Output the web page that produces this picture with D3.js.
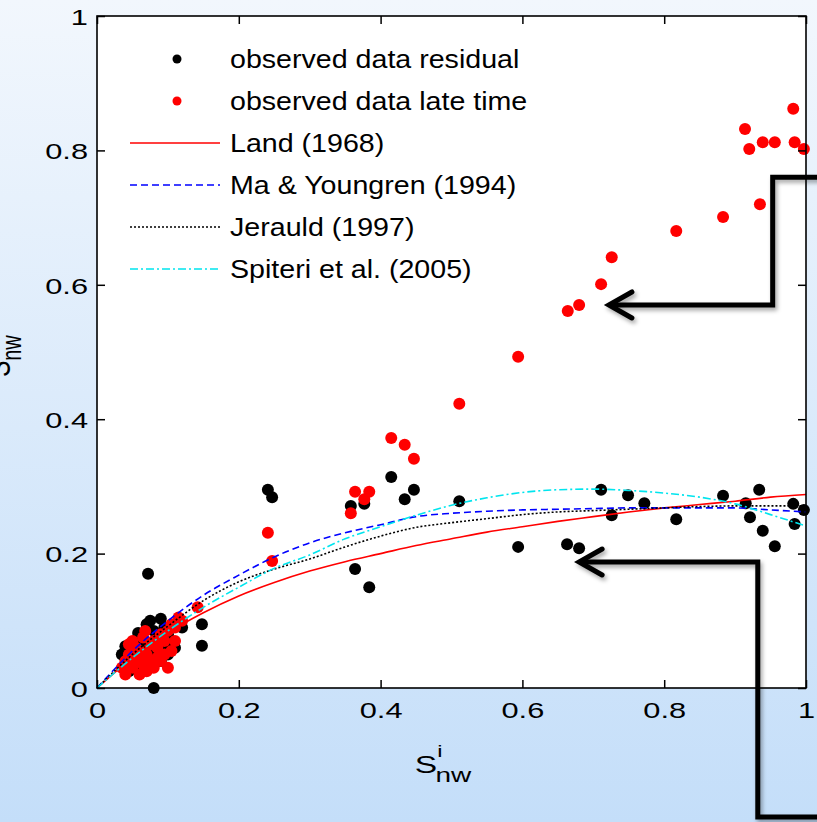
<!DOCTYPE html>
<html>
<head>
<meta charset="utf-8">
<script src="https://cdn.jsdelivr.net/npm/d3@7"></script>
<style>
  html, body { margin: 0; padding: 0; overflow: hidden; }
  svg { display: block; font-family: 'Liberation Sans', Arial, sans-serif; }
</style>
</head>
<body>
<svg width="817" height="822"></svg>
<script>
// observed data residual (S_nw^i, S_nw)
const residual = [
  [0.035, 0.050], [0.040, 0.062], [0.045, 0.055], [0.050, 0.065], [0.055, 0.045],
  [0.060, 0.070], [0.065, 0.060], [0.070, 0.095], [0.075, 0.100], [0.080, 0.085],
  [0.085, 0.075], [0.090, 0.103], [0.095, 0.090], [0.100, 0.080], [0.105, 0.070],
  [0.110, 0.060], [0.100, 0.050], [0.090, 0.040], [0.080, 0.035], [0.070, 0.040],
  [0.060, 0.030], [0.050, 0.035], [0.045, 0.025], [0.120, 0.090], [0.115, 0.100],
  [0.085, 0.055], [0.075, 0.050], [0.065, 0.045], [0.095, 0.060], [0.058, 0.082],
  [0.072, 0.170], [0.080, 0.000], [0.148, 0.095], [0.148, 0.063],
  [0.241, 0.295], [0.247, 0.284], [0.358, 0.271], [0.377, 0.274], [0.364, 0.177],
  [0.384, 0.150], [0.415, 0.314], [0.447, 0.295], [0.434, 0.281], [0.511, 0.278],
  [0.594, 0.210], [0.663, 0.214], [0.680, 0.208], [0.711, 0.295], [0.749, 0.287],
  [0.772, 0.275], [0.726, 0.257], [0.817, 0.251], [0.883, 0.286], [0.934, 0.295],
  [0.915, 0.275], [0.921, 0.254], [0.939, 0.234], [0.956, 0.211], [0.982, 0.274],
  [0.984, 0.244], [0.997, 0.265]
];

// observed data late time
const lateTime = [
  [0.035, 0.030], [0.040, 0.040], [0.045, 0.050], [0.040, 0.020], [0.050, 0.030],
  [0.055, 0.040], [0.060, 0.055], [0.065, 0.035], [0.070, 0.050], [0.075, 0.065],
  [0.080, 0.070], [0.085, 0.060], [0.090, 0.080], [0.095, 0.070], [0.100, 0.085],
  [0.105, 0.095], [0.110, 0.090], [0.115, 0.105], [0.120, 0.100], [0.060, 0.020],
  [0.070, 0.025], [0.080, 0.030], [0.090, 0.040], [0.100, 0.030], [0.085, 0.045],
  [0.075, 0.040], [0.065, 0.075], [0.055, 0.060], [0.050, 0.070], [0.095, 0.050],
  [0.110, 0.070], [0.105, 0.055], [0.045, 0.065], [0.068, 0.085], [0.062, 0.045],
  [0.142, 0.120],
  [0.241, 0.231], [0.247, 0.189], [0.358, 0.260], [0.364, 0.292], [0.384, 0.292],
  [0.377, 0.281], [0.415, 0.372], [0.434, 0.362], [0.447, 0.341], [0.511, 0.423],
  [0.594, 0.493], [0.664, 0.561], [0.680, 0.570], [0.711, 0.601], [0.726, 0.641],
  [0.817, 0.680], [0.883, 0.701], [0.935, 0.720], [0.914, 0.832], [0.920, 0.802],
  [0.939, 0.812], [0.956, 0.812], [0.982, 0.862], [0.984, 0.812], [0.997, 0.802]
];

// model curves
const siGrid = [0, 0.05, 0.1, 0.15, 0.2, 0.25, 0.3, 0.35, 0.4, 0.45, 0.5,
  0.55, 0.6, 0.65, 0.7, 0.75, 0.8, 0.85, 0.9, 0.95, 1.0];
const landCurve = [0, 0.045, 0.082, 0.112, 0.137, 0.157, 0.174, 0.188, 0.200, 0.212, 0.222,
  0.232, 0.240, 0.248, 0.255, 0.262, 0.268, 0.273, 0.278, 0.284, 0.288];
const maCurve = [0, 0.055, 0.100, 0.138, 0.168, 0.195, 0.216, 0.231, 0.243, 0.255, 0.260,
  0.263, 0.265, 0.266, 0.267, 0.268, 0.268, 0.268, 0.268, 0.265, 0.262];
const jerauldCurve = [0, 0.050, 0.092, 0.130, 0.158, 0.177, 0.192, 0.210, 0.226, 0.239, 0.246,
  0.252, 0.258, 0.262, 0.264, 0.266, 0.268, 0.270, 0.271, 0.271, 0.271];
const spiteriCurve = [0, 0.045, 0.085, 0.120, 0.150, 0.178, 0.198, 0.222, 0.240, 0.257, 0.272,
  0.283, 0.291, 0.295, 0.296, 0.294, 0.290, 0.284, 0.274, 0.258, 0.241];

const xTicks = [0, 0.2, 0.4, 0.6, 0.8, 1];
const yTicks = [0, 0.2, 0.4, 0.6, 0.8, 1];

const series = [
  {name: 'Land (1968)', values: landCurve, color: '#ff0000', dash: null},
  {name: 'Ma & Youngren (1994)', values: maCurve, color: '#0000ff', dash: '7,4'},
  {name: 'Jerauld (1997)', values: jerauldCurve, color: '#000000', dash: '2,2'},
  {name: 'Spiteri et al. (2005)', values: spiteriCurve, color: '#00e5ee', dash: '8,3,2,3'}
];

// arrows, in data units
const arrowTop = [[1.05, 0.760], [0.953, 0.760], [0.953, 0.570], [0.722, 0.570]];
const arrowBottom = [[1.05, -0.192], [0.932, -0.192], [0.932, 0.1875], [0.680, 0.1875]];

(function() {
  let svg = d3.select('svg'),
      width = +svg.attr('width'),
      height = +svg.attr('height');
  let sx = 1.4; // horizontal stretch of the tick text

  let defs = svg.append('defs');
  let grad = defs.append('linearGradient')
    .attr('id', 'bg').attr('x1', 0).attr('y1', 0).attr('x2', 0).attr('y2', 1);
  grad.append('stop').attr('offset', '0%').attr('stop-color', '#f2f7fd');
  grad.append('stop').attr('offset', '100%').attr('stop-color', '#c4def9');
  let shadow = defs.append('filter').attr('id', 'shadow')
    .attr('x', '-20%').attr('y', '-20%').attr('width', '140%').attr('height', '140%');
  shadow.append('feDropShadow').attr('dx', 2).attr('dy', 3)
    .attr('stdDeviation', 2).attr('flood-color', '#000').attr('flood-opacity', 0.35);

  svg.append('rect').attr('width', width).attr('height', height).attr('fill', 'url(#bg)');

  let x = d3.scaleLinear().domain([0, 1]).range([97, 806]);
  let y = d3.scaleLinear().domain([0, 1]).range([688, 16]);

  svg.append('rect')
    .attr('x', x(0)).attr('y', y(1))
    .attr('width', x(1) - x(0)).attr('height', y(0) - y(1))
    .attr('fill', '#ffffff');

  // points
  svg.append('g')
    .selectAll('circle')
    .data(residual)
    .enter().append('circle')
    .attr('cx', function(d) { return x(d[0]); })
    .attr('cy', function(d) { return y(d[1]); })
    .attr('r', 6)
    .attr('fill', '#000000');

  svg.append('g')
    .selectAll('circle')
    .data(lateTime)
    .enter().append('circle')
    .attr('cx', function(d) { return x(d[0]); })
    .attr('cy', function(d) { return y(d[1]); })
    .attr('r', 6)
    .attr('fill', '#ff0000');

  // curves
  let line = d3.line()
    .x(function(d, i) { return x(siGrid[i]); })
    .y(function(d) { return y(d); })
    .curve(d3.curveMonotoneX);

  svg.append('g')
    .selectAll('path')
    .data(series)
    .enter().append('path')
    .attr('d', function(d) { return line(d.values); })
    .attr('fill', 'none')
    .attr('stroke', function(d) { return d.color; })
    .attr('stroke-width', 1.6)
    .attr('stroke-dasharray', function(d) { return d.dash; });

  // axes with inward ticks
  let fmt = d3.format('~g');
  let bottom = svg.append('g')
    .attr('transform', 'translate(0,' + y(0) + ')')
    .call(d3.axisBottom(x).tickValues(xTicks).tickFormat(fmt)
      .tickSizeInner(-8).tickSizeOuter(0).tickPadding(14));
  bottom.selectAll('text')
    .attr('transform', 'scale(' + sx + ',1)');

  let left = svg.append('g')
    .attr('transform', 'translate(' + x(0) + ',0)')
    .call(d3.axisLeft(y).tickValues(yTicks).tickFormat(fmt)
      .tickSizeInner(-8).tickSizeOuter(0).tickPadding(9));
  left.selectAll('text')
    .attr('x', -9 / sx)
    .attr('dy', '0.38em')
    .attr('transform', 'scale(' + sx + ',1)');

  svg.append('g')
    .attr('transform', 'translate(0,' + y(1) + ')')
    .call(d3.axisTop(x).tickValues(xTicks).tickFormat('')
      .tickSizeInner(-8).tickSizeOuter(0));
  svg.append('g')
    .attr('transform', 'translate(' + x(1) + ',0)')
    .call(d3.axisRight(y).tickValues(yTicks).tickFormat('')
      .tickSizeInner(-8).tickSizeOuter(0));

  svg.selectAll('.domain').remove();
  svg.selectAll('.tick line').attr('stroke', '#000').attr('stroke-width', 1.5);
  svg.selectAll('.tick text')
    .attr('font-size', 22)
    .attr('font-family', "'Liberation Sans', Arial, sans-serif")
    .attr('fill', '#000');

  svg.append('rect')
    .attr('x', x(0)).attr('y', y(1))
    .attr('width', x(1) - x(0)).attr('height', y(0) - y(1))
    .attr('fill', 'none')
    .attr('stroke', '#000')
    .attr('stroke-width', 1.6);

  // axis labels
  let xl = svg.append('text')
    .attr('transform', 'translate(443,773) scale(' + sx + ',1)')
    .attr('text-anchor', 'middle')
    .attr('font-size', 24);
  xl.append('tspan').text('S');
  xl.append('tspan').attr('font-size', 17).attr('dy', -16).text('i');
  xl.append('tspan').attr('font-size', 20).attr('dx', -5).attr('dy', 25).text('nw');

  let yl = svg.append('text')
    .attr('transform', 'translate(10,356) scale(' + sx + ',1) rotate(-90)')
    .attr('text-anchor', 'middle')
    .attr('font-size', 24);
  yl.append('tspan').text('S');
  yl.append('tspan').attr('font-size', 20).attr('dy', 8).text('nw');

  // legend
  let legend = svg.append('g').attr('class', 'legend');
  let rowY = function(i) { return 59 + 42 * i; };
  let legendRows = [
    {name: 'observed data residual', type: 'dot', color: '#000000'},
    {name: 'observed data late time', type: 'dot', color: '#ff0000'}
  ].concat(series.map(function(s) {
    return {name: s.name, type: 'line', color: s.color, dash: s.dash};
  }));

  legendRows.forEach(function(d, i) {
    let g = legend.append('g').attr('transform', 'translate(0,' + rowY(i) + ')');
    if (d.type === 'dot') {
      g.append('circle').attr('cx', 177).attr('cy', 0).attr('r', 4.5).attr('fill', d.color);
    } else {
      g.append('line')
        .attr('x1', 130).attr('x2', 220).attr('y1', 0).attr('y2', 0)
        .attr('stroke', d.color).attr('stroke-width', 1.4)
        .attr('stroke-dasharray', d.dash);
    }
    g.append('text')
      .attr('transform', 'translate(230,9) scale(1.1,1)')
      .attr('font-size', 26)
      .attr('fill', '#000')
      .text(d.name);
  });

  // annotation arrows
  let arrowLine = d3.line()
    .x(function(d) { return x(d[0]); })
    .y(function(d) { return y(d[1]); });

  [arrowTop, arrowBottom].forEach(function(pts) {
    let g = svg.append('g').attr('filter', 'url(#shadow)');
    g.append('path')
      .attr('d', arrowLine(pts))
      .attr('fill', 'none')
      .attr('stroke', '#000')
      .attr('stroke-width', 5);
    let tip = pts[pts.length - 1];
    let tx = x(tip[0]), ty = y(tip[1]);
    g.append('path')
      .attr('d', 'M' + (tx + 23) + ',' + (ty - 13) + 'L' + tx + ',' + ty +
        'L' + (tx + 23) + ',' + (ty + 13))
      .attr('fill', 'none')
      .attr('stroke', '#000')
      .attr('stroke-width', 5)
      .attr('stroke-linecap', 'round')
      .attr('stroke-linejoin', 'miter');
  });
})();
</script>
</body>
</html>
